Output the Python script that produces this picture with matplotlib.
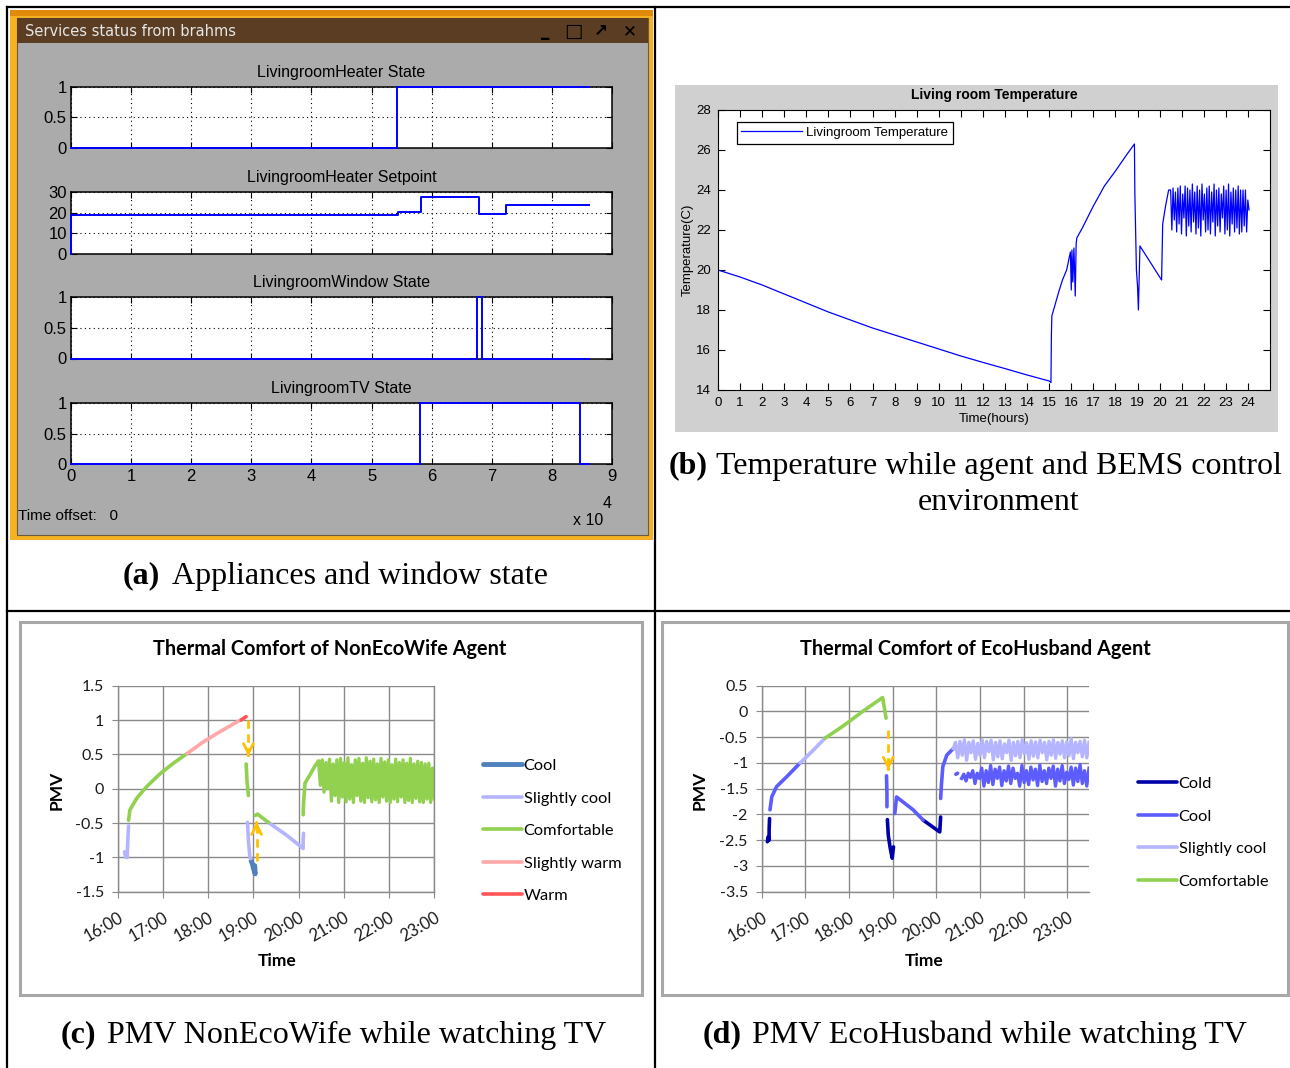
import numpy as np
import matplotlib.pyplot as plt
from matplotlib.patches import Rectangle
from matplotlib.lines import Line2D

plt.rcParams['font.family'] = ['Liberation Sans', 'DejaVu Sans']

# ---------------- data ----------------
# (a) services status, time in units of 1e4 s
heater_t = [0, 5.42, 8.62]
heater_v = [0, 1, 1]
setpoint_t = [0, 0, 5.44, 5.83, 6.79, 7.23, 8.62]
setpoint_v = [0, 18.7, 20.2, 27.4, 19.4, 23.8, 23.8]
window_t = [0, 6.75, 6.83, 8.62]
window_v = [0, 1, 0, 0]
tv_t = [0, 5.81, 8.46, 8.62]
tv_v = [0, 1, 0, 0]

# (b) living room temperature (hours, deg C)
temp_t = [0, 1, 2, 3, 4, 5, 6, 7, 8, 9, 10, 11, 12, 13, 14, 15, 15.08,
          15.1, 15.12, 15.25, 15.43, 15.6, 15.79, 15.96,
          16.0, 16.03, 16.07, 16.12, 16.18, 16.22,
          16.25, 16.5, 17.0, 17.5, 18.0, 18.5, 18.86,
          18.88, 18.95, 19.0, 19.04, 19.11,
          20.09, 20.14, 20.27, 20.41]
temp_v = [20.0, 19.65, 19.25, 18.8, 18.35, 17.9, 17.5, 17.1, 16.75, 16.4, 16.05,
          15.7, 15.38, 15.07, 14.75, 14.45, 14.37,
          16.8, 17.7, 18.2, 18.9, 19.5, 20.0, 20.9,
          19.0, 21.0, 19.4, 21.1, 18.7, 21.3,
          21.6, 22.1, 23.2, 24.2, 24.95, 25.75, 26.3,
          23.8, 20.0, 19.2, 18.0, 21.2,
          19.5, 22.3, 23.2, 24.0]
temp_osc = [24.0, 22.0, 24.1, 22.5, 23.9, 21.9, 24.1, 22.3, 24.2, 21.8, 23.8, 22.6,
            24.2, 21.7, 24.1, 22.2, 24.0, 21.9, 24.3, 22.4, 23.9, 21.8, 24.2, 22.1,
            24.0, 21.7, 24.3, 22.5, 23.8, 21.9, 24.1, 22.0, 24.2, 21.8, 23.9, 22.4,
            24.3, 21.7, 24.0, 22.2, 24.1, 21.9, 23.8, 22.6, 24.2, 21.8, 24.0, 22.0,
            24.3, 21.7, 23.9, 22.3, 24.1, 21.9, 24.0, 22.1, 24.2, 21.8, 24.0, 21.9,
            24.0, 22.2, 24.0, 21.9, 23.5, 23.0]
temp_osc_span = (20.5, 24.05)

# (c) PMV of NonEcoWife, segments per comfort class (hour, PMV)
wife_cool = [([18.95, 18.98, 19.0, 19.02, 19.04, 19.03], [-1.05, -1.1, -1.16, -1.2, -1.24, -1.12])]
wife_slightly_cool = [([16.15, 16.18, 16.21, 16.22, 16.24], [-0.92, -1.0, -1.0, -0.8, -0.54]),
                      ([18.87, 18.89, 18.92, 18.94], [-0.49, -0.75, -0.98, -1.02]),
                      ([19.33, 19.74, 20.1, 20.1, 20.11], [-0.49, -0.68, -0.87, -0.75, -0.65])]
wife_comfortable = [([16.24, 16.27, 16.42, 16.64, 16.94, 17.23, 17.53],
                     [-0.46, -0.31, -0.14, 0.03, 0.22, 0.37, 0.51]),
                    ([18.84, 18.86, 18.89], [0.36, 0.1, -0.1]),
                    ([19.04, 19.09, 19.33], [-0.39, -0.37, -0.49]),
                    ([20.1, 20.11, 20.14, 20.25, 20.36, 20.44], [-0.38, -0.2, 0.08, 0.2, 0.33, 0.4])]
wife_slightly_warm = [([17.53, 17.89, 18.26, 18.63, 18.75], [0.51, 0.68, 0.83, 0.97, 1.01])]
wife_warm = [([18.73, 18.84], [1.0, 1.05])]
wife_osc = [0.4, 0.05, 0.42, -0.05, 0.38, 0.0, 0.43, -0.18, 0.36, -0.1, 0.42, -0.2,
            0.44, -0.12, 0.38, -0.19, 0.45, -0.15, 0.35, -0.2, 0.42, -0.1, 0.44, -0.18,
            0.37, -0.2, 0.45, -0.13, 0.4, -0.19, 0.43, -0.16, 0.36, -0.2, 0.44, -0.12,
            0.39, -0.18, 0.42, -0.2, 0.35, -0.15, 0.43, -0.19, 0.38, -0.12, 0.42, -0.2,
            0.37, -0.17, 0.44, -0.2, 0.36, -0.14, 0.4, -0.19, 0.38, -0.2, 0.36, -0.15,
            0.37, -0.2, 0.3, -0.15]
wife_osc_span = (20.44, 23.0)

# (d) PMV of EcoHusband
hus_cold = [([16.13, 16.15, 16.17, 16.17, 16.18], [-2.53, -2.43, -2.5, -2.3, -2.08]),
            ([18.88, 18.9, 18.94, 18.99, 19.01, 19.02], [-2.1, -2.4, -2.63, -2.85, -2.7, -2.63]),
            ([19.7, 20.08, 20.09, 20.1], [-2.11, -2.34, -2.2, -2.05])]
hus_cool = [([16.19, 16.23, 16.34, 16.57, 16.8, 16.88], [-1.91, -1.66, -1.46, -1.27, -1.07, -1.0]),
            ([18.86, 18.87, 18.87], [-1.25, -1.6, -1.85]),
            ([19.05, 19.09, 19.47, 19.7], [-1.98, -1.66, -1.91, -2.11]),
            ([20.1, 20.12, 20.15, 20.24, 20.39], [-1.69, -1.4, -1.07, -0.85, -0.72]),
            ([20.45, 20.49], [-1.22, -1.2])]
hus_slightly_cool = [([16.88, 17.15, 17.45], [-1.0, -0.78, -0.52])]
hus_comfortable = [([17.45, 17.87, 18.33, 18.77, 18.85], [-0.52, -0.28, 0.01, 0.27, -0.13])]
hus_osc_light = [-0.72, -0.6, -0.9, -0.58, -0.85, -0.55, -0.95, -0.6, -0.8, -0.57, -0.93, -0.62,
                 -0.85, -0.55, -0.9, -0.58, -0.78, -0.56, -0.94, -0.6, -0.88, -0.57, -0.92, -0.63,
                 -0.8, -0.56, -0.95, -0.6, -0.86, -0.58, -0.9, -0.55, -0.82, -0.61, -0.93, -0.57,
                 -0.87, -0.59, -0.9, -0.56, -0.8, -0.6, -0.94, -0.58, -0.85, -0.55, -0.91, -0.6,
                 -0.83, -0.57, -0.9, -0.59, -0.86, -0.53, -0.92, -0.6, -0.8, -0.58, -0.88, -0.56,
                 -0.9, -0.6]
hus_osc_light_span = (20.39, 23.5)
hus_osc_cool = [-1.3, -1.22, -1.35, -1.2, -1.28, -1.15, -1.4, -1.2, -1.3, -1.1, -1.45, -1.15,
                -1.38, -1.05, -1.42, -1.12, -1.3, -1.08, -1.44, -1.15, -1.35, -1.06, -1.4, -1.1,
                -1.3, -1.2, -1.45, -1.05, -1.38, -1.15, -1.42, -1.08, -1.33, -1.12, -1.44, -1.04,
                -1.36, -1.15, -1.4, -1.1, -1.3, -1.06, -1.45, -1.12, -1.35, -1.05, -1.4, -1.18,
                -1.32, -1.08, -1.43, -1.1, -1.36, -1.03, -1.4, -1.15, -1.45, -1.1]
hus_osc_cool_span = (20.58, 23.5)

hour_labels = ['16:00', '17:00', '18:00', '19:00', '20:00', '21:00', '22:00', '23:00']

# ---------------- layout helpers (pixel coordinates) ----------------
W, H = 1290, 1068
fig = plt.figure(figsize=(W / 100, H / 100), dpi=100)


def fx(x):
    return x / W


def fy(y):
    return 1 - y / H


def box(x0, y0, x1, y1):
    return [x0 / W, 1 - y1 / H, (x1 - x0) / W, (y1 - y0) / H]


def rect(x0, y0, x1, y1, **kw):
    fig.add_artist(Rectangle((fx(x0), fy(y1)), (x1 - x0) / W, (y1 - y0) / H,
                             transform=fig.transFigure, zorder=-1, **kw))


def line(x0, y0, x1, y1, **kw):
    fig.add_artist(Line2D([fx(x0), fx(x1)], [fy(y0), fy(y1)], transform=fig.transFigure, **kw))


# table grid
for args in [(7, 7, 1290, 7), (7, 7, 7, 1068), (655, 7, 655, 1068), (7, 610.5, 1290, 610.5)]:
    line(*args, color='black', lw=1.6)

serif = 'Liberation Serif'


def caption(xb, xt, y, tag, text):
    fig.text(fx(xb), fy(y), tag, family=serif, fontsize=23, fontweight='bold', ha='right', va='center')
    fig.text(fx(xt), fy(y), text, family=serif, fontsize=23, ha='left', va='center')


# ---------------- (a) ----------------
rect(10, 10, 653, 540, facecolor='#f4b223', edgecolor='none')
rect(10, 10, 653, 16, facecolor='#e08a0c', edgecolor='none')
rect(17, 18, 648, 535, facecolor='#ababab', edgecolor='#6a5a40', lw=0.8)
rect(17, 18, 648, 43, facecolor='#5a3d22', edgecolor='none')
fig.text(fx(25), fy(31), 'Services status from brahms', family='DejaVu Sans', fontsize=10.5,
         color='#e6e6e6', va='center')
for xi, s, fs in [(545, '_', 12), (573, '□', 14), (601, '↗', 12), (630, '✕', 12)]:
    fig.text(fx(xi), fy(31), s, family='DejaVu Sans', fontsize=fs, fontweight='bold',
             color='black', ha='center', va='center')

a_panels = [
    ('LivingroomHeater State', heater_t, heater_v, 86.7, 148, (0, 1), [0, 0.5, 1], ['0', '0.5', '1']),
    ('LivingroomHeater Setpoint', setpoint_t, setpoint_v, 192, 254, (0, 30), [0, 10, 20, 30],
     ['0', '10', '20', '30']),
    ('LivingroomWindow State', window_t, window_v, 297, 358.5, (0, 1), [0, 0.5, 1], ['0', '0.5', '1']),
    ('LivingroomTV State', tv_t, tv_v, 403, 464.5, (0, 1), [0, 0.5, 1], ['0', '0.5', '1']),
]
for i, (title, t, v, top, bot, ylim, yt, ytl) in enumerate(a_panels):
    ax = fig.add_axes(box(71, top, 612, bot))
    ax.plot(t, v, color='#0000ff', lw=1.4, drawstyle='steps-post', clip_on=False, zorder=3)
    ax.set_xlim(0, 9)
    ax.set_ylim(*ylim)
    ax.set_xticks(range(10))
    ax.set_yticks(yt)
    ax.set_yticklabels(ytl)
    ax.grid(True, color='black', linestyle=(0, (1, 3)), lw=0.8)
    ax.tick_params(direction='in', top=True, right=True, length=4, labelsize=12, pad=3)
    for sp in ax.spines.values():
        sp.set_linewidth(1.1)
    ax.set_title(title, fontsize=11.5, pad=7)
    if i < 3:
        ax.set_xticklabels([])
fig.text(fx(18), fy(516), 'Time offset:   0', fontsize=11, va='center')
fig.text(fx(573), fy(520), 'x 10', fontsize=11.5, va='center')
fig.text(fx(603), fy(503), '4', fontsize=11.5, va='center')

caption(160, 172, 576, '(a)', 'Appliances and window state')

# ---------------- (b) ----------------
rect(675, 85, 1278, 432, facecolor='#d0d0d0', edgecolor='none')
axb = fig.add_axes(box(718, 110, 1270, 390))
osc_t = np.linspace(temp_osc_span[0], temp_osc_span[1], len(temp_osc))
axb.plot(list(temp_t) + list(osc_t), list(temp_v) + list(temp_osc), color='#0000ff', lw=0.9,
         label='Livingroom Temperature')
axb.set_xlim(0, 25)
axb.set_ylim(14, 28)
axb.set_xticks(range(25))
axb.set_yticks(range(14, 29, 2))
axb.tick_params(direction='in', top=True, right=True, length=5, labelsize=9.5, pad=5)
axb.set_title('Living room Temperature', fontsize=10, fontweight='bold', pad=8)
axb.set_xlabel('Time(hours)', fontsize=9.5, labelpad=3)
axb.set_ylabel('Temperature(C)', fontsize=9.5, labelpad=2)
leg = axb.legend(loc='upper left', bbox_to_anchor=(0.034, 0.957), borderaxespad=0, fontsize=9.5,
                 fancybox=False, edgecolor='black', framealpha=1, handlelength=4.6, handletextpad=0.3,
                 borderpad=0.35)
leg.get_frame().set_linewidth(0.9)

fig.text(fx(708), fy(466), '(b)', family=serif, fontsize=23, fontweight='bold', ha='right', va='center')
fig.text(fx(716), fy(466), 'Temperature while agent and BEMS control', family=serif, fontsize=23,
         ha='left', va='center')
fig.text(fx(999), fy(503), 'environment', family=serif, fontsize=23, ha='center', va='center')

# ---------------- (c) and (d) ----------------
calibri = 'Lato'
grid_c = '#8a8a8a'


def pmv_axes(rect_px, ylim, yticks, yticklabels, xmax, right_spine):
    ax = fig.add_axes(box(*rect_px))
    ax.set_xlim(16, xmax)
    ax.set_ylim(*ylim)
    ax.set_xticks(range(16, 24))
    ax.set_xticklabels(hour_labels, rotation=30, ha='right', va='top', rotation_mode='anchor',
                       fontfamily=calibri, fontsize=12)
    ax.set_yticks(yticks)
    ax.set_yticklabels(yticklabels, fontfamily=calibri, fontsize=11.5)
    ax.grid(True, color=grid_c, lw=1)
    ax.tick_params(length=4, color=grid_c, labelcolor='#1a1a1a', pad=6)
    ax.tick_params(axis='x', pad=9)
    for name, sp in ax.spines.items():
        sp.set_color(grid_c)
        sp.set_linewidth(1)
    ax.spines['top'].set_visible(False)
    ax.spines['right'].set_visible(right_spine)
    ax.set_axisbelow(True)
    return ax


def draw_class(ax, segs, color, lw=2.6):
    handle = None
    for t, v in segs:
        h, = ax.plot(t, v, color=color, lw=lw, solid_capstyle='round', solid_joinstyle='round')
        handle = handle or h
    return handle


def dash_arrow(ax, x, y0, y1):
    ax.plot([x, x], [y0, y1], color='#ffc000', lw=2, ls=(0, (3, 2)), zorder=5)
    d = 0.02 if y1 < y0 else -0.02
    ax.annotate('', xy=(x, y1), xytext=(x, y1 + d),
                arrowprops=dict(arrowstyle='->,head_length=0.7,head_width=0.35', color='#ffc000', lw=2),
                zorder=5)


leg_kw = dict(loc='upper left', bbox_transform=fig.transFigure, frameon=False,
              prop={'family': calibri, 'size': 11.8}, handlelength=2.4, handletextpad=0.1,
              labelspacing=1.1, borderaxespad=0)

# frames
rect(20, 622, 642, 995, facecolor='white', edgecolor='#a8a8a8', lw=2.2)
rect(662, 622, 1288, 995, facecolor='white', edgecolor='#a8a8a8', lw=2.2)

# (c)
axc = pmv_axes((117.7, 685.7, 434.3, 891.7), (-1.5, 1.5), [-1.5, -1, -0.5, 0, 0.5, 1, 1.5],
               ['-1.5', '-1', '-0.5', '0', '0.5', '1', '1.5'], 23, True)
c_cols = {'Cool': '#4f81bd', 'Slightly cool': '#b4b4ff', 'Comfortable': '#92d050',
          'Slightly warm': '#ffa8a8', 'Warm': '#ff5757'}
h_cool = draw_class(axc, wife_cool, c_cols['Cool'], lw=3.5)
h_scool = draw_class(axc, wife_slightly_cool, c_cols['Slightly cool'])
h_comf = draw_class(axc, wife_comfortable, c_cols['Comfortable'])
axc.plot(np.linspace(wife_osc_span[0], wife_osc_span[1], len(wife_osc)), wife_osc,
         color=c_cols['Comfortable'], lw=2.4)
h_swarm = draw_class(axc, wife_slightly_warm, c_cols['Slightly warm'])
h_warm = draw_class(axc, wife_warm, c_cols['Warm'])
dash_arrow(axc, 18.89, 1.0, 0.47)
dash_arrow(axc, 19.07, -1.06, -0.48)
axc.legend([h_cool, h_scool, h_comf, h_swarm, h_warm],
           ['Cool', 'Slightly cool', 'Comfortable', 'Slightly warm', 'Warm'],
           bbox_to_anchor=(fx(476), fy(752)), **leg_kw)
fig.text(fx(330), fy(649), 'Thermal Comfort of NonEcoWife Agent', family=calibri, fontsize=14.3,
         fontweight='bold', ha='center', va='center')
fig.text(fx(277), fy(961), 'Time', family=calibri, fontsize=12.5, fontweight='bold', ha='center', va='center')
fig.text(fx(57), fy(790), 'PMV', family=calibri, fontsize=12.5, fontweight='bold', rotation=90,
         ha='center', va='center')

# (d)
axd = pmv_axes((761.7, 685.7, 1089, 891.7), (-3.5, 0.5), [-3.5, -3, -2.5, -2, -1.5, -1, -0.5, 0, 0.5],
               ['-3.5', '-3', '-2.5', '-2', '-1.5', '-1', '-0.5', '0', '0.5'], 23.5, False)
d_cols = {'Cold': '#0000a8', 'Cool': '#5c5cff', 'Slightly cool': '#b4b4ff', 'Comfortable': '#92d050'}
hd_cold = draw_class(axd, hus_cold, d_cols['Cold'])
hd_cool = draw_class(axd, hus_cool, d_cols['Cool'])
hd_scool = draw_class(axd, hus_slightly_cool, d_cols['Slightly cool'])
hd_comf = draw_class(axd, hus_comfortable, d_cols['Comfortable'])
axd.plot(np.linspace(hus_osc_light_span[0], hus_osc_light_span[1], len(hus_osc_light)), hus_osc_light,
         color=d_cols['Slightly cool'], lw=2.4)
axd.plot(np.linspace(hus_osc_cool_span[0], hus_osc_cool_span[1], len(hus_osc_cool)), hus_osc_cool,
         color=d_cols['Cool'], lw=2.4)
dash_arrow(axd, 18.9, -0.36, -1.14)
axd.legend([hd_cold, hd_cool, hd_scool, hd_comf], ['Cold', 'Cool', 'Slightly cool', 'Comfortable'],
           bbox_to_anchor=(fx(1131), fy(770)), **leg_kw)
fig.text(fx(975), fy(649), 'Thermal Comfort of EcoHusband Agent', family=calibri, fontsize=14.3,
         fontweight='bold', ha='center', va='center')
fig.text(fx(924), fy(961), 'Time', family=calibri, fontsize=12.5, fontweight='bold', ha='center', va='center')
fig.text(fx(700), fy(790), 'PMV', family=calibri, fontsize=12.5, fontweight='bold', rotation=90,
         ha='center', va='center')

caption(96, 107, 1035, '(c)', 'PMV NonEcoWife while watching TV')
caption(742, 752, 1035, '(d)', 'PMV EcoHusband while watching TV')

fig.savefig('out.png', dpi=100)
